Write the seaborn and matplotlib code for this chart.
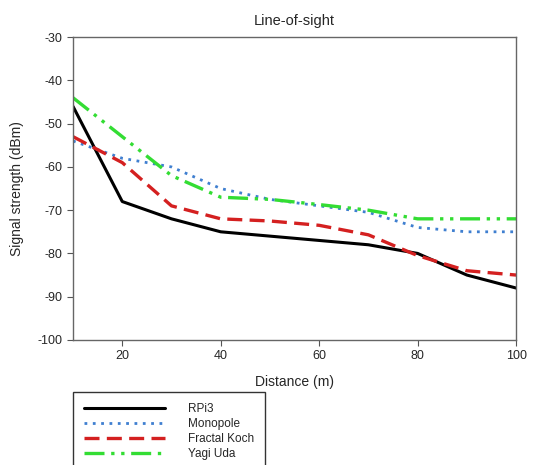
import pandas as pd
import matplotlib
matplotlib.use("Agg")
import matplotlib.pyplot as plt
import seaborn as sns

sns.set_style("ticks")
plt.rcParams['font.family'] = ['Liberation Sans', 'DejaVu Sans']
plt.rcParams['axes.unicode_minus'] = False

distance = [10, 20, 30, 40, 50, 60, 70, 80, 90, 100]
rpi3 = [-46, -68, -72, -75, -76, -77, -78, -80, -85, -88]
monopole = [-54, -58, -60, -65, -67.5, -69, -70.5, -74, -75, -75]
fractal_koch = [-53, -59, -69, -72, -72.5, -73.5, -75.7, -80.5, -84, -85]
yagi_uda = [-44, -53, -62, -67, -67.5, -68.7, -70, -72, -72, -72]

series_names = ["RPi3", "Monopole", "Fractal Koch", "Yagi Uda"]
series_values = [rpi3, monopole, fractal_koch, yagi_uda]

styles = {
    "RPi3": dict(color="black", linestyle="-", linewidth=2.2),
    "Monopole": dict(color="#3f7fd0", linestyle=(0, (1, 2)), linewidth=2.0),
    "Fractal Koch": dict(color="#d42020", linestyle=(0, (4.5, 2.2)), linewidth=2.4),
    "Yagi Uda": dict(color="#33dd33", linestyle=(0, (6, 2, 1, 2, 1, 2)), linewidth=2.4),
}

fig = plt.figure(figsize=(5.47, 4.65), dpi=100)
ax = fig.add_axes([0.1335, 0.269, 0.81, 0.651])

for name, vals in zip(series_names, series_values):
    df = pd.DataFrame({"Distance": distance, "Signal": vals})
    sns.lineplot(data=df, x="Distance", y="Signal", ax=ax, label=name, **styles[name])

ax.set_xlim(10, 100)
ax.set_ylim(-100, -30)
ax.set_xticks([20, 40, 60, 80, 100])
ax.set_yticks(range(-100, -29, 10))
ax.set_xlabel("Distance (m)", fontsize=10, labelpad=9)
ax.set_ylabel("Signal strength (dBm)", fontsize=10, labelpad=10)
ax.set_title("Line-of-sight", fontsize=10.5, pad=9)
ax.tick_params(labelsize=9, direction="out", length=4, color="#555555")
for sp in ax.spines.values():
    sp.set_color("#666666")
    sp.set_linewidth(1.0)

ax.legend_.remove()
handles, labels = ax.get_legend_handles_labels()
leg = fig.legend(handles, labels, loc="upper left",
                 bbox_to_anchor=(0.1335, 0.157), bbox_transform=fig.transFigure,
                 borderaxespad=0,
                 fontsize=8.5, handlelength=6.8, handletextpad=2.0,
                 labelspacing=0.25, borderpad=0.95, fancybox=False,
                 frameon=True, edgecolor="#333333", framealpha=1)
leg.get_frame().set_linewidth(1.0)

fig.savefig("out.png", dpi=100)
